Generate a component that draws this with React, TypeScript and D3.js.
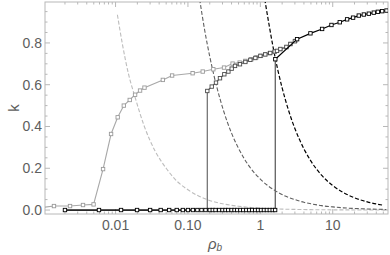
import React from 'react';
import * as d3 from 'd3';

// light gray series (squares)
const seriesA: [number, number][] = [
  [0.001, 0.013], [0.00141, 0.019], [0.00235, 0.019], [0.00355, 0.024], [0.00497, 0.027],
  [0.00672, 0.196], [0.00867, 0.364], [0.0107, 0.444], [0.013, 0.5], [0.0157, 0.527],
  [0.0186, 0.552], [0.0218, 0.572], [0.0251, 0.586], [0.045, 0.623], [0.0604, 0.644],
  [0.116, 0.655], [0.16, 0.663], [0.224, 0.674], [0.315, 0.682], [0.414, 0.701],
  [0.518, 0.706], [0.621, 0.714], [0.751, 0.722], [0.881, 0.731], [1.02, 0.738],
  [1.17, 0.746], [1.35, 0.751], [1.56, 0.757], [1.89, 0.77], [2.29, 0.779],
  [2.6, 0.795], [3.05, 0.81],
];

// flat part shared by the dark series
const flatX = [
  0.002, 0.0059, 0.0119, 0.0198, 0.03, 0.042, 0.055, 0.07, 0.085, 0.1, 0.117, 0.135,
  0.154, 0.175,
];
const flatX2 = [
  0.2, 0.22, 0.24, 0.27, 0.3, 0.33, 0.36, 0.4, 0.44, 0.48, 0.53, 0.58, 0.64, 0.7,
  0.77, 0.85, 0.93, 1.02, 1.12, 1.23, 1.35, 1.48, 1.6,
];

// dark gray series after jump at 0.185
const seriesCUpper: [number, number][] = [
  [0.185, 0.57], [0.213, 0.591], [0.244, 0.61], [0.277, 0.631], [0.318, 0.65],
  [0.362, 0.663], [0.402, 0.677], [0.447, 0.69], [0.523, 0.698], [0.621, 0.709],
  [0.727, 0.719], [0.853, 0.728], [1.0, 0.738], [1.17, 0.745], [1.37, 0.752],
  [1.58, 0.759], [1.7, 0.762], [1.89, 0.771], [2.29, 0.781], [2.6, 0.795], [3.0, 0.808],
];

// black series after jump at 1.61
const seriesBUpper: [number, number][] = [
  [1.61, 0.722], [3.22, 0.818], [4.92, 0.846], [7.13, 0.867], [9.6, 0.886],
  [12.5, 0.899], [15.8, 0.913], [19.1, 0.921], [22.9, 0.931], [26.9, 0.936],
  [31.5, 0.94], [36.9, 0.945], [42, 0.949], [48.2, 0.952], [55.3, 0.955],
];

// dashed guide curves
const dashLight: [number, number][] = [
  [0.0106, 0.935], [0.0125, 0.79], [0.015, 0.655], [0.0186, 0.54], [0.025, 0.4],
  [0.035, 0.284], [0.05, 0.2], [0.07, 0.139], [0.1, 0.097], [0.14, 0.067], [0.185, 0.05],
  [0.3, 0.03], [0.5, 0.018], [0.75, 0.012], [1, 0.009], [1.5, 0.006], [2, 0.0045],
  [3, 0.003], [5, 0.0018], [10, 0.0009], [20, 0.0005], [55, 0.0002],
];
const dashMid: [number, number][] = [
  [0.145, 1.01], [0.17, 0.862], [0.2, 0.735], [0.25, 0.59], [0.308, 0.479],
  [0.4, 0.368], [0.5, 0.295], [0.7, 0.21], [1, 0.148], [1.3, 0.114], [1.6, 0.093],
  [2.2, 0.067], [3, 0.05], [4, 0.037], [5, 0.03], [7, 0.021], [10, 0.015], [14, 0.0105],
  [20, 0.0075], [30, 0.005], [55, 0.0027],
];
const dashDark: [number, number][] = [
  [1.15, 1.01], [1.3, 0.9], [1.5, 0.78], [1.75, 0.668], [2, 0.585], [2.5, 0.468],
  [3, 0.39], [4, 0.293], [5, 0.234], [7, 0.167], [10, 0.117], [14, 0.084],
  [20, 0.0585], [30, 0.039], [40, 0.029], [48, 0.024],
];

const xTickVals = [0.01, 0.1, 1, 10];
const xTickLabels = ['0.01', '0.10', '1', '10'];
const yTickVals = [0, 0.2, 0.4, 0.6, 0.8];
const yTickLabels = ['0.0', '0.2', '0.4', '0.6', '0.8'];

const flatB: [number, number][] = [...flatX, ...flatX2].map((v) => [v, 0] as [number, number]);
const jumpB: [number, number][] = [[1.61, 0], seriesBUpper[0]];
const flatC: [number, number][] = [...flatX, 0.185].map((v) => [v, 0] as [number, number]);
const jumpC: [number, number][] = [[0.185, 0], seriesCUpper[0]];

export default function App() {
  const W = 390, H = 255;
  const L = 45, R = 388, T = 2, B = 214;
  const x = d3.scaleLog().domain([0.00106, 58]).range([L, R]);
  const y = d3.scaleLinear().domain([-0.019, 0.996]).range([B, T]);
  const line = d3.line<[number, number]>().x((d) => x(d[0])).y((d) => y(d[1]));
  const smooth = d3.line<[number, number]>().x((d) => x(d[0])).y((d) => y(d[1])).curve(d3.curveMonotoneX);

  const minorX: number[] = [];
  for (let e = -3; e <= 1; e++) {
    for (let m = 2; m <= 9; m++) {
      const v = m * Math.pow(10, e);
      if (v >= 0.00106 && v <= 58) minorX.push(v);
    }
  }
  const minorY = [0.05, 0.1, 0.15, 0.25, 0.3, 0.35, 0.45, 0.5, 0.55, 0.65, 0.7, 0.75, 0.85, 0.9, 0.95];

  const frame = '#b8b8b8';
  const txt = '#5e5e5e';
  const font = 'Liberation Sans, Arial, sans-serif';

  const markers = (data: [number, number][], color: string, keyp: string) =>
    data
      .filter((d) => d[0] >= 0.00106)
      .map((d, i) => (
        <rect key={keyp + i} x={x(d[0]) - 1.7} y={y(d[1]) - 1.7} width={3.4} height={3.4}
          fill="white" stroke={color} strokeWidth={0.9} />
      ));

  return (
    <svg width={W} height={H} style={{ position: 'absolute', left: 0, top: 0 }} fontFamily={font}>
      <defs>
        <clipPath id="plot">
          <rect x={L} y={T} width={R - L} height={B - T} />
        </clipPath>
      </defs>
      <rect x={L} y={T} width={R - L} height={B - T} fill="white" stroke={frame} strokeWidth={1} />
      {/* ticks */}
      {xTickVals.map((v) => (
        <g key={'xt' + v}>
          <line x1={x(v)} x2={x(v)} y1={B} y2={B - 5} stroke={frame} />
          <line x1={x(v)} x2={x(v)} y1={T} y2={T + 5} stroke={frame} />
        </g>
      ))}
      {minorX.map((v, i) => (
        <g key={'xm' + i}>
          <line x1={x(v)} x2={x(v)} y1={B} y2={B - 2.5} stroke={frame} />
          <line x1={x(v)} x2={x(v)} y1={T} y2={T + 2.5} stroke={frame} />
        </g>
      ))}
      {yTickVals.map((v) => (
        <g key={'yt' + v}>
          <line x1={L} x2={L + 5} y1={y(v)} y2={y(v)} stroke={frame} />
          <line x1={R} x2={R - 5} y1={y(v)} y2={y(v)} stroke={frame} />
        </g>
      ))}
      {minorY.map((v, i) => (
        <g key={'ym' + i}>
          <line x1={L} x2={L + 2.5} y1={y(v)} y2={y(v)} stroke={frame} />
          <line x1={R} x2={R - 2.5} y1={y(v)} y2={y(v)} stroke={frame} />
        </g>
      ))}
      {/* tick labels */}
      {xTickVals.map((v, i) => (
        <text key={'xl' + v} x={x(v)} y={230} textAnchor="middle" fontSize={14} fill={txt}>
          {xTickLabels[i]}
        </text>
      ))}
      {yTickVals.map((v, i) => (
        <text key={'yl' + v} x={42} y={y(v) + 5} textAnchor="end" fontSize={14} fill={txt}>
          {yTickLabels[i]}
        </text>
      ))}
      <text transform="translate(19,108) rotate(-90)" textAnchor="middle" fontSize={15} fill={txt}>k</text>
      <text x={208} y={249} fontSize={15} fill={txt} fontStyle="italic">
        ρ<tspan fontSize={10} dy={2}>b</tspan>
      </text>

      <g clipPath="url(#plot)">
        <path d={smooth(dashLight) || ''} fill="none" stroke="#bdbdbd" strokeWidth={1.1} strokeDasharray="4,2" />
        <path d={smooth(dashMid) || ''} fill="none" stroke="#606060" strokeWidth={1.1} strokeDasharray="4,2" />
        <path d={smooth(dashDark) || ''} fill="none" stroke="#000" strokeWidth={1.2} strokeDasharray="4,2" />

        <path d={line(seriesA) || ''} fill="none" stroke="#a8a8a8" strokeWidth={1.1} />
        {markers(seriesA, '#9a9a9a', 'a')}

        <path d={line(flatC) || ''} fill="none" stroke="#555" strokeWidth={1.1} />
        <path d={line(jumpC) || ''} fill="none" stroke="#6a6a6a" strokeWidth={1.2} />
        <path d={line(seriesCUpper) || ''} fill="none" stroke="#555" strokeWidth={1.1} />
        {markers(seriesCUpper, '#4a4a4a', 'c')}

        <path d={line(flatB) || ''} fill="none" stroke="#000" strokeWidth={1.2} />
        <path d={line(jumpB) || ''} fill="none" stroke="#6a6a6a" strokeWidth={1.4} />
        <path d={line(seriesBUpper) || ''} fill="none" stroke="#000" strokeWidth={1.2} />
        {markers(flatB, '#000', 'bf')}
        {markers(seriesBUpper, '#000', 'bu')}
      </g>
    </svg>
  );
}
